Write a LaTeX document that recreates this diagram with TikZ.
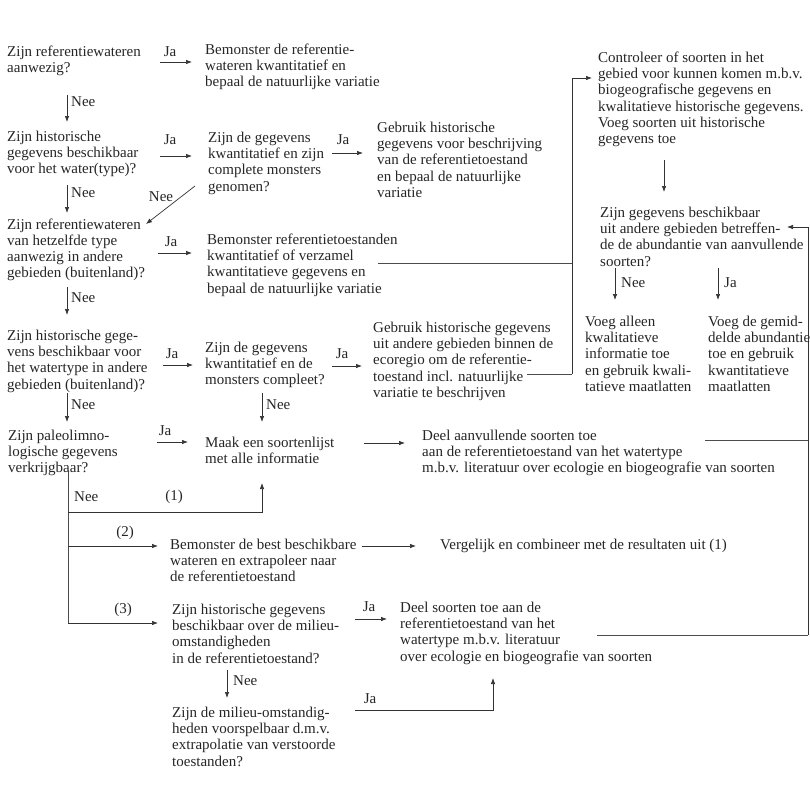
\documentclass[tikz,border=0pt]{standalone}
\usepackage{fontspec}
\setmainfont{Liberation Serif}
\usetikzlibrary{arrows.meta}
\newcommand{\ml}[1]{\begin{tabular}[t]{@{}l@{}}#1\end{tabular}}
\begin{document}
\begin{tikzpicture}[x=1pt,y=-1pt,
  txt/.style={anchor=base west, inner sep=0pt, font=\fontsize{15}{16.2}\selectfont, text=black!85},
  lbl/.style={inner sep=0pt, font=\fontsize{15}{16.2}\selectfont, text=black!85},
  arr/.style={-{Latex[length=6pt,width=4.5pt]}, line width=0.7pt, draw=black!80},
  ln/.style={line width=0.7pt, draw=black!70}]
\useasboundingbox[fill=white] (0,0) rectangle (810,789);

% left column questions
\node[txt] (q1) at (7,56.5) {\ml{Zijn referentiewateren\\aanwezig?}};
\node[txt] (q2) at (7,141.5) {\ml{Zijn historische\\gegevens beschikbaar\\voor het water(type)?}};
\node[txt] (q3) at (7,229) {\ml{Zijn referentiewateren\\van hetzelfde type\\aanwezig in andere\\gebieden (buitenland)?}};
\node[txt] (q4) at (7,340.5) {\ml{Zijn historische gege-\\vens beschikbaar voor\\het watertype in andere\\gebieden (buitenland)?}};
\node[txt] (q5) at (8,440.5) {\ml{Zijn paleolimno-\\logische gegevens\\verkrijgbaar?}};

% middle column
\node[txt] (b1) at (205,54.5) {\ml{Bemonster de referentie-\\wateren kwantitatief en\\bepaal de natuurlijke variatie}};
\node[txt] (q2b) at (208,142.5) {\ml{Zijn de gegevens\\kwantitatief en zijn\\complete monsters\\genomen?}};
\node[txt] (g1) at (377,132.5) {\ml{Gebruik historische\\gegevens voor beschrijving\\van de referentietoestand\\en bepaal de natuurlijke\\variatie}};
\node[txt] (b3) at (207,244.5) {\ml{Bemonster referentietoestanden\\kwantitatief of verzamel\\kwantitatieve gegevens en\\bepaal de natuurlijke variatie}};
\node[txt] (q4b) at (205,352.5) {\ml{Zijn de gegevens\\kwantitatief en de\\monsters compleet?}};
\node[txt] (g4) at (373,332.5) {\ml{Gebruik historische gegevens\\uit andere gebieden binnen de\\ecoregio om de referentie-\\toestand incl. natuurlijke\\variatie te beschrijven}};
\node[txt] (maak) at (205,447.5) {\ml{Maak een soortenlijst\\met alle informatie}};
\node[txt] (deel1) at (422,440.5) {\ml{Deel aanvullende soorten toe\\aan de referentietoestand van het watertype\\m.b.v. literatuur over ecologie en biogeografie van soorten}};
\node[txt] (best) at (170,549.5) {\ml{Bemonster de best beschikbare\\wateren en extrapoleer naar\\de referentietoestand}};
\node[txt] (verg) at (440,549.5) {Vergelijk en combineer met de resultaten uit (1)};
\node[txt] (q7) at (172,614.5) {\ml{Zijn historische gegevens\\beschikbaar over de milieu-\\omstandigheden\\in de referentietoestand?}};
\node[txt] (deel2) at (400,612.5) {\ml{Deel soorten toe aan de\\referentietoestand van het\\watertype m.b.v. literatuur\\over ecologie en biogeografie van soorten}};
\node[txt] (q8) at (172,717.5) {\ml{Zijn de milieu-omstandig-\\heden voorspelbaar d.m.v.\\extrapolatie van verstoorde\\toestanden?}};

% right column
\node[txt] (c1) at (598,62.5) {\ml{Controleer of soorten in het\\gebied voor kunnen komen m.b.v.\\biogeografische gegevens en\\kwalitatieve historische gegevens.\\Voeg soorten uit historische\\gegevens toe}};
\node[txt] (q6) at (600,217.5) {\ml{Zijn gegevens beschikbaar\\uit andere gebieden betreffen-\\de de abundantie van aanvullende\\soorten?}};
\node[txt] (v1) at (585,326.5) {\ml{Voeg alleen\\kwalitatieve\\informatie toe\\en gebruik kwali-\\tatieve maatlatten}};
\node[txt] (v2) at (708,326.5) {\ml{Voeg de gemid-\\delde abundantie\\toe en gebruik\\kwantitatieve\\maatlatten}};

% labels
\node[lbl] (l1) at (170,52) {Ja};
\node[lbl,anchor=west] (l2) at (71,102) {Nee};
\node[lbl] (l3) at (170,140) {Ja};
\node[lbl] (l4) at (343,140) {Ja};
\node[lbl,anchor=west] (l5) at (71,193) {Nee};
\node[lbl] (l6) at (161,197) {Nee};
\node[lbl] (l7) at (171,242) {Ja};
\node[lbl,anchor=west] (l8) at (71,298) {Nee};
\node[lbl] (l9) at (172,354) {Ja};
\node[lbl] (l10) at (342,354) {Ja};
\node[lbl,anchor=west] (l11) at (71,405) {Nee};
\node[lbl,anchor=west] (l12) at (266,405) {Nee};
\node[lbl] (l13) at (165,431) {Ja};
\node[lbl,anchor=west] (l14) at (74,497) {Nee};
\node[lbl] (l15) at (174,497) {(1)};
\node[lbl] (l16) at (125,533) {(2)};
\node[lbl] (l17) at (123,610) {(3)};
\node[lbl] (l18) at (369,607) {Ja};
\node[lbl,anchor=west] (l19) at (233,681) {Nee};
\node[lbl] (l20) at (370,699) {Ja};
\node[lbl,anchor=west] (l21) at (621,283) {Nee};
\node[lbl,anchor=west] (l22) at (724,283) {Ja};

% arrows left/middle
\draw[arr] (160,62) -- (192,62);
\draw[arr] (67,95) -- (67,122);
\draw[arr] (160,156) -- (192,156);
\draw[arr] (332,153) -- (363,153);
\draw[arr] (67,185) -- (67,213);
\draw[arr] (195,186) -- (146,224);
\draw[arr] (158,253) -- (192,253);
\draw[arr] (67,287) -- (67,315);
\draw[arr] (163,365) -- (193,365);
\draw[arr] (332,366) -- (362,366);
\draw[arr] (67,393) -- (67,422);
\draw[arr] (262,393) -- (262,422);
\draw[arr] (157,442) -- (188,442);
\draw[arr] (364,443) -- (405,443);
\draw[ln] (68,470) -- (68,623);
\draw[arr] (68,512) -- (262,512) -- (262,483);
\draw[arr] (68,546) -- (158,546);
\draw[arr] (362,546) -- (416,546);
\draw[arr] (68,623) -- (158,623);
\draw[arr] (355,619) -- (387,619);
\draw[arr] (227,670) -- (227,698);
\draw[arr] (355,710) -- (493,710) -- (493,678);

% right side connectors
\draw[ln] (378,263) -- (572,263);
\draw[ln] (527,374) -- (572,374);
\draw[arr] (572,374) -- (572,78) -- (592,78);
\draw[arr] (664,160) -- (664,192);
\draw[ln] (705,440) -- (808,440);
\draw[ln] (597,635) -- (808,635);
\draw[arr] (808,635) -- (808,227) -- (787,227);
\draw[arr] (615,268) -- (615,300);
\draw[arr] (718,268) -- (718,300);
\end{tikzpicture}
\end{document}
